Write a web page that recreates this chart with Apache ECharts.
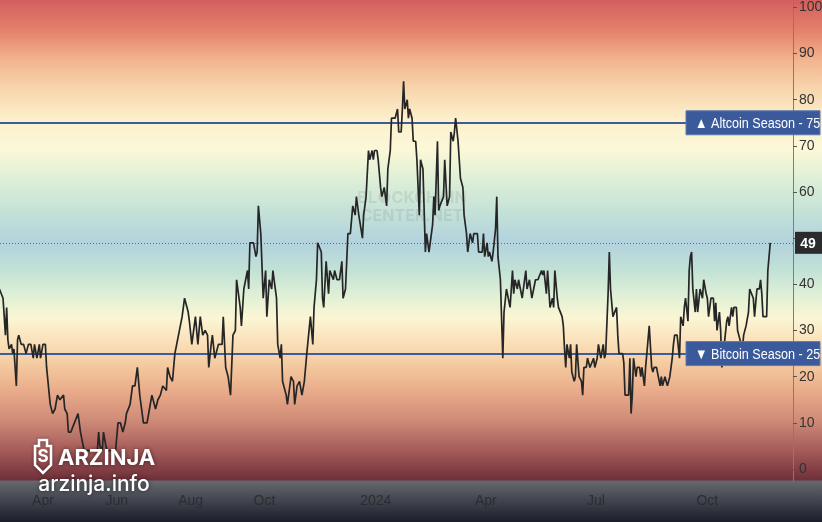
<!DOCTYPE html>
<html><head><meta charset="utf-8">
<script src="https://cdn.jsdelivr.net/npm/echarts@6/dist/echarts.min.js"></script>
<style>html,body{margin:0;padding:0;background:#fff}#c{width:822px;height:522px}</style>
</head><body><div id="c"></div>
<script>
const dates = [
'2023-02-24','2023-02-27','2023-03-01','2023-03-02','2023-03-03','2023-03-04','2023-03-06','2023-03-07','2023-03-08','2023-03-10',
'2023-03-11','2023-03-12','2023-03-14','2023-03-16','2023-03-18','2023-03-20','2023-03-22','2023-03-24','2023-03-25','2023-03-27',
'2023-03-29','2023-03-30','2023-04-01','2023-04-03','2023-04-04','2023-04-07','2023-04-09','2023-04-11','2023-04-13','2023-04-15',
'2023-04-18','2023-04-19','2023-04-21','2023-04-22','2023-04-24','2023-04-27','2023-04-30','2023-05-02','2023-05-03','2023-05-05',
'2023-05-10','2023-05-14','2023-05-16','2023-05-17','2023-05-18','2023-05-20','2023-05-21','2023-05-23','2023-05-24','2023-05-27',
'2023-05-31','2023-06-02','2023-06-04','2023-06-06','2023-06-08','2023-06-09','2023-06-12','2023-06-14','2023-06-16','2023-06-18',
'2023-06-20','2023-06-23','2023-06-26','2023-06-28','2023-06-30','2023-07-03','2023-07-05','2023-07-07','2023-07-09','2023-07-12',
'2023-07-13','2023-07-15','2023-07-17','2023-07-19','2023-07-22','2023-07-25','2023-07-27','2023-07-30','2023-07-31','2023-08-02',
'2023-08-05','2023-08-07','2023-08-09','2023-08-11','2023-08-13','2023-08-15','2023-08-16','2023-08-18','2023-08-19','2023-08-21',
'2023-08-24','2023-08-27','2023-08-28','2023-08-30','2023-09-01','2023-09-03','2023-09-05','2023-09-07','2023-09-08','2023-09-11',
'2023-09-12','2023-09-14','2023-09-17','2023-09-18','2023-09-19','2023-09-22','2023-09-24','2023-09-25','2023-09-26','2023-09-28',
'2023-09-30','2023-10-02','2023-10-03','2023-10-05','2023-10-07','2023-10-08','2023-10-11','2023-10-12','2023-10-14','2023-10-15',
'2023-10-16','2023-10-19','2023-10-20','2023-10-23','2023-10-25','2023-10-26','2023-10-28','2023-10-30','2023-11-01','2023-11-03',
'2023-11-04','2023-11-05','2023-11-08','2023-11-10','2023-11-11','2023-11-13','2023-11-14','2023-11-17','2023-11-18','2023-11-19',
'2023-11-21','2023-11-23','2023-11-24','2023-11-27','2023-11-28','2023-11-30','2023-12-02','2023-12-04','2023-12-05','2023-12-07',
'2023-12-09','2023-12-11','2023-12-13','2023-12-15','2023-12-16','2023-12-18','2023-12-21','2023-12-22','2023-12-24','2023-12-26',
'2023-12-27','2023-12-29','2023-12-30','2023-12-31','2024-01-02','2024-01-03','2024-01-05','2024-01-06','2024-01-08','2024-01-09',
'2024-01-10','2024-01-11','2024-01-13','2024-01-14','2024-01-17','2024-01-19','2024-01-20','2024-01-22','2024-01-23','2024-01-24',
'2024-01-25','2024-01-27','2024-01-28','2024-01-29','2024-01-31','2024-02-01','2024-02-03','2024-02-04','2024-02-06','2024-02-07',
'2024-02-09','2024-02-11','2024-02-12','2024-02-14','2024-02-17','2024-02-18','2024-02-19','2024-02-21','2024-02-22','2024-02-23',
'2024-02-26','2024-02-27','2024-02-29','2024-03-02','2024-03-03','2024-03-05','2024-03-06','2024-03-07','2024-03-09','2024-03-10',
'2024-03-11','2024-03-13','2024-03-14','2024-03-16','2024-03-17','2024-03-19','2024-03-21','2024-03-22','2024-03-25','2024-03-26',
'2024-03-29','2024-03-30','2024-03-31','2024-04-02','2024-04-03','2024-04-04','2024-04-06','2024-04-07','2024-04-09','2024-04-10',
'2024-04-11','2024-04-13','2024-04-15','2024-04-16','2024-04-18','2024-04-19','2024-04-21','2024-04-23','2024-04-24','2024-04-25',
'2024-04-27','2024-04-28','2024-05-01','2024-05-02','2024-05-04','2024-05-05','2024-05-07','2024-05-09','2024-05-10','2024-05-12',
'2024-05-14','2024-05-17','2024-05-18','2024-05-19','2024-05-21','2024-05-22','2024-05-24','2024-05-26','2024-05-27','2024-05-28',
'2024-05-30','2024-05-31','2024-06-01','2024-06-03','2024-06-04','2024-06-05','2024-06-06','2024-06-07','2024-06-09','2024-06-10',
'2024-06-11','2024-06-13','2024-06-14','2024-06-15','2024-06-17','2024-06-19','2024-06-20','2024-06-21','2024-06-23','2024-06-24',
'2024-06-26','2024-06-29','2024-06-30','2024-07-02','2024-07-03','2024-07-05','2024-07-07','2024-07-08','2024-07-09','2024-07-11',
'2024-07-12','2024-07-13','2024-07-15','2024-07-16','2024-07-18','2024-07-19','2024-07-20','2024-07-23','2024-07-24','2024-07-25',
'2024-07-28','2024-07-29','2024-07-30','2024-07-31','2024-08-01','2024-08-03','2024-08-04','2024-08-06','2024-08-07','2024-08-08',
'2024-08-10','2024-08-11','2024-08-12','2024-08-14','2024-08-16','2024-08-17','2024-08-18','2024-08-20','2024-08-21','2024-08-23',
'2024-08-24','2024-08-25','2024-08-27','2024-08-29','2024-08-30','2024-08-31','2024-09-02','2024-09-03','2024-09-04','2024-09-06',
'2024-09-08','2024-09-09','2024-09-11','2024-09-12','2024-09-13','2024-09-15','2024-09-16','2024-09-17','2024-09-18','2024-09-19',
'2024-09-21','2024-09-22','2024-09-23','2024-09-25','2024-09-27','2024-09-28','2024-09-30','2024-10-01','2024-10-02','2024-10-04',
'2024-10-06','2024-10-07','2024-10-08','2024-10-09','2024-10-11','2024-10-12','2024-10-13','2024-10-15','2024-10-17','2024-10-18',
'2024-10-19','2024-10-21','2024-10-22','2024-10-23','2024-10-25','2024-10-26','2024-10-27','2024-10-29','2024-10-30','2024-10-31',
'2024-11-02','2024-11-04','2024-11-05','2024-11-06','2024-11-08','2024-11-09','2024-11-10','2024-11-11','2024-11-13','2024-11-14',
'2024-11-15','2024-11-16','2024-11-19','2024-11-20','2024-11-21','2024-11-22'
];
const values = [
39,37,29,35,28,26,27,25,26,18,
28,29,27,27,25,27,27,24,27,24,
27,24,27,27,22,14,12,13,16,15,
16,13,12,8,8,10,12,8,8,4,
4,4,4,8,5,4,8,5,4,4,
4,10,10,8,10,12,14,18,18,22,
16,10,10,13,16,13,15,16,18,17,
22,20,19,25,29,33,37,34,32,27,
33,27,33,29,30,29,22,27,29,24,
27,27,33,22,20,16,29,30,41,35,
31,39,43,39,49,49,46,47,57,51,
37,43,33,41,39,43,37,27,24,27,
19,16,14,20,19,14,18,19,16,19,
19,25,33,27,35,41,49,47,37,35,
45,38,43,41,43,41,41,45,37,39,
51,51,57,55,59,55,50,55,59,69,
67,69,67,69,69,67,61,59,61,59,
57,65,69,76,76,78,73,73,78,84,
78,80,76,78,76,71,71,67,55,67,
65,47,51,47,53,59,55,71,56,57,
59,67,57,59,73,71,73,76,71,67,
63,61,55,51,47,51,49,51,51,47,
47,51,46,49,46,47,45,47,52,59,
46,41,24,34,39,39,35,43,38,41,
39,41,37,37,43,39,41,37,37,41,
41,43,42,43,38,43,35,37,35,43,
37,35,35,33,31,26,22,27,24,27,
21,19,20,27,20,19,16,22,22,24,
22,24,22,24,27,24,27,24,25,38,
47,39,33,33,35,29,25,25,23,16,
16,24,12,16,24,20,22,22,20,22,
18,22,25,31,22,21,22,22,22,18,
20,18,20,18,18,20,24,27,29,29,
24,33,31,35,37,32,43,46,47,39,
34,39,34,39,37,41,38,37,33,37,
37,32,36,30,34,30,22,27,32,33,
31,35,33,35,35,30,29,27,26,29,
31,34,39,39,37,33,33,39,39,41,
38,33,33,43,43,49
];
const tickDates = ['2023-04-01','2023-06-01','2023-08-01','2023-10-01','2024-01-01','2024-04-01','2024-07-01','2024-10-01'];
const tickLabels = ['Apr','Jun','Aug','Oct','2024','Apr','Jul','Oct'];
const yTicks = [0,10,20,30,40,50,60,70,80,90,100];
const altcoinLevel = 75;
const bitcoinLevel = 25;
const altcoinText = '\u25B2 Altcoin Season - 75';
const bitcoinText = '\u25BC Bitcoin Season - 25';

const ts = s => { const p = s.split('-').map(Number); return Date.UTC(p[0], p[1]-1, p[2]); };
const HOUR = 3600000;
const lastValue = values[values.length - 1];
const seriesData = dates.map((d, i) => [ts(d), values[i]]);
const tickTs = tickDates.map(ts);
const labelOf = v => { const i = tickTs.findIndex(t => Math.abs(t - v) < HOUR); return i >= 0 ? tickLabels[i] : ''; };
// the last-value tag hides the axis label it overlaps
const yLabelValues = yTicks.filter(v => Math.abs(v - lastValue) > 3);

const FONT = "'Liberation Sans', Arial, sans-serif";

const chart = echarts.init(document.getElementById('c'), null, {renderer: 'canvas'});
const option = {
  animation: false,
  backgroundColor: {
    type: 'linear', x: 0, y: 0, x2: 0, y2: 1,
    colorStops: [
      {offset: 0, color: '#d15f5e'},
      {offset: 0.057, color: '#e3806a'},
      {offset: 0.115, color: '#f2b48e'},
      {offset: 0.172, color: '#f8d6ae'},
      {offset: 0.230, color: '#fdf0cc'},
      {offset: 0.287, color: '#fbf8d8'},
      {offset: 0.354, color: '#d9edd6'},
      {offset: 0.412, color: '#c2e0d8'},
      {offset: 0.464, color: '#b2d2de'},
      {offset: 0.517, color: '#c2e1d6'},
      {offset: 0.565, color: '#dff0d6'},
      {offset: 0.609, color: '#fbf6d4'},
      {offset: 0.651, color: '#fae2bc'},
      {offset: 0.690, color: '#f6cfa4'},
      {offset: 0.747, color: '#eaad8b'},
      {offset: 0.805, color: '#cf8b77'},
      {offset: 0.862, color: '#a65c5a'},
      {offset: 0.9195, color: '#6f3039'},
      {offset: 0.9215, color: '#65686e'},
      {offset: 1, color: '#1b1e2a'}
    ]
  },
  grid: {left: 0, right: 29, top: 0, bottom: 41, containLabel: false, outerBoundsMode: 'none'},
  xAxis: {
    type: 'value',
    min: ts('2023-02-24') + 12 * HOUR,
    max: ts('2024-12-10') + 19 * HOUR,
    axisLine: {show: false},
    axisTick: {show: false},
    splitLine: {show: false},
    axisLabel: {
      customValues: tickTs,
      formatter: v => labelOf(v),
      color: '#2c2d33', fontSize: 14, fontFamily: FONT, margin: 13
    }
  },
  yAxis: {
    type: 'value',
    position: 'right',
    min: -2.6, max: 101.6,
    splitLine: {show: false},
    axisLine: {show: true, lineStyle: {color: '#7d7d80', width: 1}},
    axisTick: {show: true, customValues: yTicks, length: 4, lineStyle: {color: '#555'}},
    axisLabel: {customValues: yLabelValues, color: '#333', fontSize: 14, fontFamily: FONT, margin: 6}
  },
  series: [{
    type: 'line',
    data: seriesData,
    showSymbol: false,
    lineStyle: {color: '#262626', width: 1.7},
    z: 5,
    markLine: {
      silent: true,
      symbol: 'none',
      label: {show: false},
      data: [
        {yAxis: altcoinLevel, lineStyle: {color: '#3d5c9c', width: 2, type: 'solid'}},
        {yAxis: bitcoinLevel, lineStyle: {color: '#3d5c9c', width: 2, type: 'solid'}},
        {yAxis: lastValue, lineStyle: {color: '#6a6a6a', width: 1, type: [1, 2]}}
      ]
    }
  }]
};
chart.setOption(option);

const gridRight = chart.getWidth() - option.grid.right;
function seasonTag(value, text) {
  const y = chart.convertToPixel({yAxisIndex: 0}, value);
  return {
    type: 'group', z: 100,
    children: [
      {type: 'rect', z: 100, shape: {x: gridRight - 107, y: y - 12, width: 134, height: 24},
        style: {fill: '#3a5a9c', stroke: '#5a78b0', lineWidth: 1}},
      {type: 'text', z: 101, x: gridRight - 98, y: y + 1, scaleX: 0.84,
        style: {x: 0, y: 0, text: text, fill: '#ffffff',
        font: '15px ' + FONT, textAlign: 'left', textVerticalAlign: 'middle', verticalAlign: 'middle'}}
    ]
  };
}
const yLast = chart.convertToPixel({yAxisIndex: 0}, lastValue);
chart.setOption({
  graphic: [
    seasonTag(altcoinLevel, altcoinText),
    seasonTag(bitcoinLevel, bitcoinText),
    {type: 'group', z: 100, children: [
      {type: 'rect', z: 100, shape: {x: gridRight + 2, y: yLast - 11, width: 27, height: 22}, style: {fill: '#2b2b2b'}},
      {type: 'text', z: 101, style: {x: gridRight + 15, y: yLast + 1, text: String(lastValue), fill: '#ffffff',
        font: 'bold 14px ' + FONT, textAlign: 'center', textVerticalAlign: 'middle', verticalAlign: 'middle'}}
    ]},
    {type: 'text', z: 1, style: {x: 412, y: 198, text: 'BL\u25CFCKCHAIN', fill: 'rgba(110,120,130,0.16)',
      font: 'bold 16px Inter, sans-serif', textAlign: 'center', textVerticalAlign: 'middle', verticalAlign: 'middle'}},
    {type: 'text', z: 1, style: {x: 412, y: 216, text: 'CENTER.NET', fill: 'rgba(110,120,130,0.16)',
      font: 'bold 16px Inter, sans-serif', textAlign: 'center', textVerticalAlign: 'middle', verticalAlign: 'middle'}},
    {type: 'polygon', z: 110, shape: {points: [[35,446],[39,446],[39,440],[47,440],[47,446],[51,446],[51,465],[43,473],[35,465]]},
      style: {fill: 'none', stroke: '#ffffff', lineWidth: 2.6, shadowBlur: 3, shadowColor: 'rgba(0,0,0,0.5)'}},
    {type: 'text', z: 111, style: {x: 43, y: 457, text: 'S', fill: '#ffffff', font: 'bold 17px Inter, sans-serif',
      textAlign: 'center', textVerticalAlign: 'middle', verticalAlign: 'middle'}},
    {type: 'text', z: 110, style: {x: 58, y: 458, text: 'ARZINJA', fill: '#ffffff',
      font: 'bold 22px Inter, sans-serif', textAlign: 'left', textVerticalAlign: 'middle', verticalAlign: 'middle',
      textShadowBlur: 4, textShadowColor: 'rgba(0,0,0,0.55)'}},
    {type: 'text', z: 110, style: {x: 94, y: 485, text: 'arzinja.info', fill: '#ffffff',
      font: '500 21px Inter, sans-serif', textAlign: 'center', textVerticalAlign: 'middle', verticalAlign: 'middle',
      textShadowBlur: 4, textShadowColor: 'rgba(0,0,0,0.55)'}}
  ]
});
</script>
</body></html>
